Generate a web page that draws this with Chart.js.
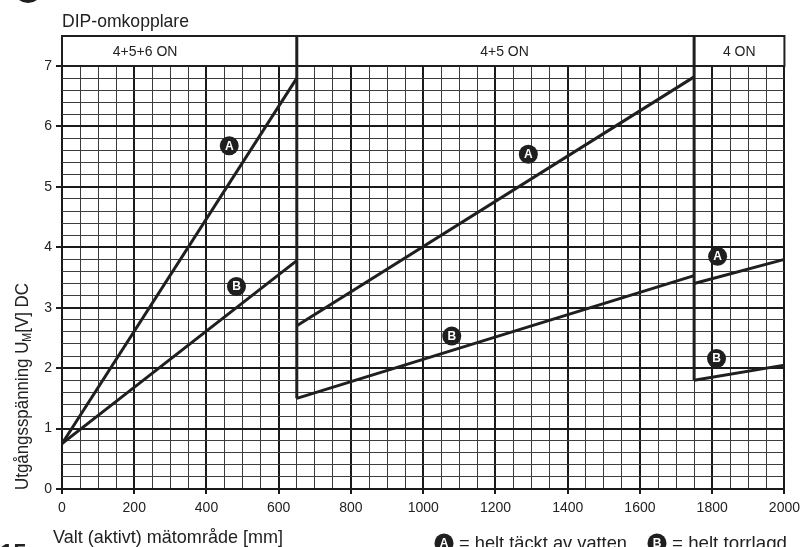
<!DOCTYPE html>
<html>
<head>
<meta charset="utf-8">
<script src="https://cdn.jsdelivr.net/npm/chart.js@4"></script>
<style>
  html, body { margin: 0; padding: 0; background: #fff; }
  #wrap { position: relative; width: 806px; height: 547px; }
</style>
</head>
<body>
<div id="wrap"><canvas id="chart"></canvas></div>
<script>
/* ------------------------------------------------------------
   Values
------------------------------------------------------------ */
// section 1: 4+5+6 ON
var seg1X = [0, 650];
var seg1A = [0.75, 6.8];
var seg1B = [0.75, 3.78];
// section 2: 4+5 ON
var seg2X = [650, 1750];
var seg2A = [2.7, 6.82];
var seg2B = [1.5, 3.53];
// section 3: 4 ON
var seg3X = [1750, 2000];
var seg3A = [3.4, 3.8];
var seg3B = [1.8, 2.05];

var sectionNames   = ['4+5+6 ON', '4+5 ON', '4 ON'];
var sectionLabelX  = [230, 1225, 1875];
var sectionEdges   = [650, 1750];
var sectionEdgeLow = [1.5, 1.8];

var markerText = ['A', 'B', 'A', 'B', 'A', 'B'];
var markerX    = [463, 483, 1291, 1079, 1815, 1812];
var markerY    = [5.68, 3.35, 5.54, 2.53, 3.85, 2.16];

var xMin = 0, xMax = 2000, xStep = 50, xLabelStep = 200;
var yMin = 0, yMax = 7, yStep = 0.2;

var titleText  = 'DIP-omkopplare';
var xTitleText = 'Valt (aktivt) mätområde [mm]';
var yTitleMain = 'Utgångsspänning U';
var yTitleSub  = 'M';
var yTitleEnd  = '[V] DC';
var legendA    = '= helt täckt av vatten';
var legendB    = '= helt torrlagd';

/* ------------------------------------------------------------
   Helpers
------------------------------------------------------------ */
var INK = '#1f1f1f';
var FONT = '"Liberation Sans", Arial, Helvetica, sans-serif';

function pts(xs, ys) {
  return xs.map(function (x, i) { return { x: x, y: ys[i] }; });
}

function isInt(v) { return Math.abs(v - Math.round(v)) < 1e-6; }

function segment(xs, ys) {
  return {
    data: pts(xs, ys),
    showLine: true,
    borderColor: INK,
    borderWidth: 3,
    pointRadius: 0,
    fill: false
  };
}

function badge(ctx, x, y, letter) {
  ctx.beginPath();
  ctx.arc(x, y, 9.5, 0, Math.PI * 2);
  ctx.fillStyle = INK;
  ctx.fill();
  ctx.fillStyle = '#fff';
  ctx.font = 'bold 12px ' + FONT;
  ctx.textAlign = 'center';
  ctx.textBaseline = 'middle';
  ctx.fillText(letter, x, y + 0.5);
}

/* ------------------------------------------------------------
   Header band, dividers, badges and all free text
------------------------------------------------------------ */
var decorPlugin = {
  id: 'decor',
  afterDatasetsDraw: function (chart) {
    var ctx = chart.ctx;
    var xs = chart.scales.x, ys = chart.scales.y;
    var area = chart.chartArea;
    var headTop = area.top - 30;

    ctx.save();

    // header box
    ctx.strokeStyle = INK;
    ctx.lineWidth = 2;
    ctx.strokeRect(area.left, headTop, area.right - area.left, area.top - headTop);

    // section dividers, running from the header down to curve B
    ctx.lineWidth = 3;
    sectionEdges.forEach(function (v, i) {
      var px = xs.getPixelForValue(v);
      ctx.beginPath();
      ctx.moveTo(px, headTop);
      ctx.lineTo(px, ys.getPixelForValue(sectionEdgeLow[i]));
      ctx.stroke();
    });

    // section names
    ctx.fillStyle = '#222';
    ctx.font = '14px ' + FONT;
    ctx.textAlign = 'center';
    ctx.textBaseline = 'middle';
    sectionNames.forEach(function (s, i) {
      ctx.fillText(s, xs.getPixelForValue(sectionLabelX[i]), headTop + 16);
    });

    // A / B badges on the marker dataset
    var meta = chart.getDatasetMeta(chart.data.datasets.length - 1);
    meta.data.forEach(function (el, i) {
      badge(ctx, el.x, el.y, markerText[i]);
    });

    // chart title
    ctx.fillStyle = '#222';
    ctx.textAlign = 'left';
    ctx.textBaseline = 'alphabetic';
    ctx.font = '19px ' + FONT;
    ctx.fillText(titleText, area.left, 27, 127);

    // x axis title
    ctx.fillText(xTitleText, 53, 543, 230);

    // y axis title with subscript M
    ctx.save();
    ctx.translate(28, 490);
    ctx.rotate(-Math.PI / 2);
    ctx.font = '19px ' + FONT;
    var w1 = ctx.measureText(yTitleMain).width;
    ctx.font = '12px ' + FONT;
    var w2 = ctx.measureText(yTitleSub).width;
    ctx.font = '19px ' + FONT;
    var w3 = ctx.measureText(yTitleEnd).width;
    var sx = 207 / (w1 + w2 + w3);
    ctx.scale(sx, 1);
    ctx.fillText(yTitleMain, 0, 0);
    ctx.font = '12px ' + FONT;
    ctx.fillText(yTitleSub, w1, 3);
    ctx.font = '19px ' + FONT;
    ctx.fillText(yTitleEnd, w1 + w2, 0);
    ctx.restore();

    // legend, cut off by the bottom edge
    badge(ctx, 444, 543, 'A');
    ctx.fillStyle = '#222';
    ctx.font = '19px ' + FONT;
    ctx.textAlign = 'left';
    ctx.textBaseline = 'alphabetic';
    ctx.fillText(legendA, 459, 549, 168);
    badge(ctx, 657, 543, 'B');
    ctx.fillStyle = '#222';
    ctx.font = '19px ' + FONT;
    ctx.textAlign = 'left';
    ctx.textBaseline = 'alphabetic';
    ctx.fillText(legendB, 672, 549, 115);

    // page fragments: figure number and bullet
    ctx.font = 'bold 24px ' + FONT;
    ctx.fillText('15', 0, 561);
    ctx.beginPath();
    ctx.arc(28, -12, 15, 0, Math.PI * 2);
    ctx.fillStyle = INK;
    ctx.fill();

    ctx.restore();
  }
};

/* ------------------------------------------------------------
   Chart
------------------------------------------------------------ */
new Chart(document.getElementById('chart'), {
  type: 'scatter',
  data: {
    datasets: [
      segment(seg1X, seg1A),
      segment(seg1X, seg1B),
      segment(seg2X, seg2A),
      segment(seg2X, seg2B),
      segment(seg3X, seg3A),
      segment(seg3X, seg3B),
      {
        data: pts(markerX, markerY),
        showLine: false,
        pointRadius: 0,
        backgroundColor: INK
      }
    ]
  },
  options: {
    responsive: true,
    maintainAspectRatio: false,
    animation: false,
    layout: { padding: { top: 66, right: 19, left: 0, bottom: 0 } },
    plugins: {
      legend: { display: false },
      tooltip: { enabled: false }
    },
    scales: {
      x: {
        type: 'linear',
        min: xMin,
        max: xMax,
        afterFit: function (s) { s.height = 58; },
        border: { display: false },
        ticks: {
          stepSize: xStep,
          autoSkip: false,
          maxRotation: 0,
          padding: 6,
          color: '#222',
          font: { size: 14, family: FONT },
          callback: function (v) { return v % xLabelStep === 0 ? v : ''; }
        },
        grid: {
          tickLength: 5,
          color: function (c) { return c.tick && c.tick.value % xLabelStep === 0 ? '#1a1a1a' : '#3c3c3c'; },
          lineWidth: function (c) { return c.tick && c.tick.value % xLabelStep === 0 ? 2 : 1; },
          tickColor: function (c) { return c.tick && c.tick.value % xLabelStep === 0 ? '#1a1a1a' : 'rgba(0,0,0,0)'; },
          tickWidth: 2
        }
      },
      y: {
        type: 'linear',
        min: yMin,
        max: yMax,
        afterFit: function (s) { s.width = 62; },
        border: { display: false },
        ticks: {
          stepSize: yStep,
          autoSkip: false,
          padding: 4,
          color: '#222',
          font: { size: 14, family: FONT },
          callback: function (v) { return isInt(v) ? Math.round(v) : ''; }
        },
        grid: {
          tickLength: 6,
          color: function (c) { return c.tick && isInt(c.tick.value) ? '#1a1a1a' : '#3c3c3c'; },
          lineWidth: function (c) { return c.tick && isInt(c.tick.value) ? 2 : 1; },
          tickColor: function (c) { return c.tick && isInt(c.tick.value) ? '#1a1a1a' : 'rgba(0,0,0,0)'; },
          tickWidth: 2
        }
      }
    }
  },
  plugins: [decorPlugin]
});
</script>
</body>
</html>
